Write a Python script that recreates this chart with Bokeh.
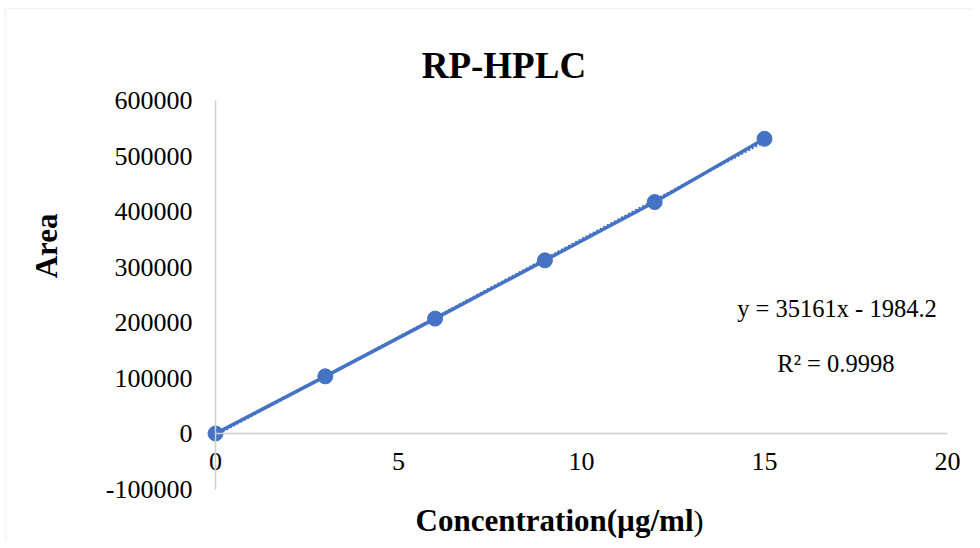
import numpy as np
from bokeh.plotting import figure
from bokeh.models import Range1d, FixedTicker, NumeralTickFormatter, Label, BoxAnnotation
from bokeh.embed import file_html
from bokeh.resources import INLINE

# ---- data ----
concentration = [0, 3, 6, 9, 12, 15]
area = [0, 103000, 207000, 312000, 417000, 531000]
x_ticks = [0, 5, 10, 15, 20]
y_ticks = [-100000, 0, 100000, 200000, 300000, 400000, 500000, 600000]
title_text = "RP-HPLC"
x_label = "Concentration(µg/ml"
x_label_tail = ")"
y_label = "Area"
eq_text = "y = 35161x - 1984.2"
r2_text = "R² = 0.9998"

BLUE = "#4472C4"
FONT = "Liberation Serif"
AXIS_GRAY = "#cfcfcf"

# frame covers the whole canvas; axes are fixed at x=0 / y=0
W, H = 972, 540
X0_PX, XPX = 215.0, 36.6          # pixel of x=0, pixels per unit
Y0_PX, YPX = 433.0, 5.55e-4       # pixel of y=0, pixels per unit
x_rng = Range1d(-X0_PX / XPX, (W - X0_PX) / XPX)
y_rng = Range1d(-(H - Y0_PX) / YPX, Y0_PX / YPX)

p = figure(width=W, height=H, output_backend="svg", toolbar_location=None,
           x_range=x_rng, y_range=y_rng, min_border=0)
p.outline_line_color = None
p.grid.visible = False

# faint chart-area border (top and left edges visible)
p.add_layout(BoxAnnotation(left=(5 - X0_PX) / XPX, right=x_rng.end + 5,
                           top=(Y0_PX - 8) / YPX, bottom=y_rng.start - 100000,
                           fill_alpha=0, line_color="#d9d9d9", line_width=1.5,
                           level="underlay"))

xa = p.xaxis[0]
xa.fixed_location = 0
xa.bounds = (x_ticks[0], x_ticks[-1])
xa.ticker = FixedTicker(ticks=x_ticks)
xa.axis_line_color = AXIS_GRAY
xa.axis_line_width = 1.5
xa.major_tick_line_color = None
xa.minor_tick_line_color = None
xa.major_tick_out = 0
xa.major_tick_in = 0
xa.major_label_standoff = 19
xa.major_label_text_font = FONT
xa.major_label_text_font_size = "26px"
xa.major_label_text_color = "#000000"

ya = p.yaxis[0]
ya.fixed_location = 0
ya.bounds = (y_ticks[0], y_ticks[-1])
ya.ticker = FixedTicker(ticks=y_ticks)
ya.formatter = NumeralTickFormatter(format="0")
ya.axis_line_color = AXIS_GRAY
ya.axis_line_width = 1.5
ya.major_tick_line_color = None
ya.minor_tick_line_color = None
ya.major_tick_out = 0
ya.major_tick_in = 0
ya.major_label_standoff = 23
ya.major_label_text_font = FONT
ya.major_label_text_font_size = "26px"
ya.major_label_text_color = "#000000"

# trendline (linear fit of the data)
slope, intercept = np.polyfit(concentration, area, 1)
tx = [concentration[0], concentration[-1]]
ty = [slope * v + intercept for v in tx]
p.line(tx, ty, line_color=BLUE, line_width=2.5, line_dash="2 2")
p.line(concentration, area, line_color=BLUE, line_width=3.5)
p.scatter(concentration, area, size=15, fill_color=BLUE, line_color=BLUE)

def lab(x, y, text, size, bold=False, align="center", angle=0.0):
    p.add_layout(Label(x=x, y=y, text=text, text_font=FONT, text_font_size=size,
                       text_font_style="bold" if bold else "normal",
                       text_align=align, text_baseline="middle", angle=angle,
                       text_color="#000000"))

lab(7.88, 663000, title_text, "37px", bold=True)
lab(13.06, -157000, x_label, "31px", bold=True, align="right")
lab(13.06, -157000, x_label_tail, "30px", bold=False, align="left")
lab(-4.62, 338000, y_label, "31px", bold=True, angle=np.pi / 2)
lab(16.98, 226000, eq_text, "24.5px")
lab(16.95, 127000, r2_text, "24.5px")

open("out.html", "w").write(file_html(p, INLINE))
